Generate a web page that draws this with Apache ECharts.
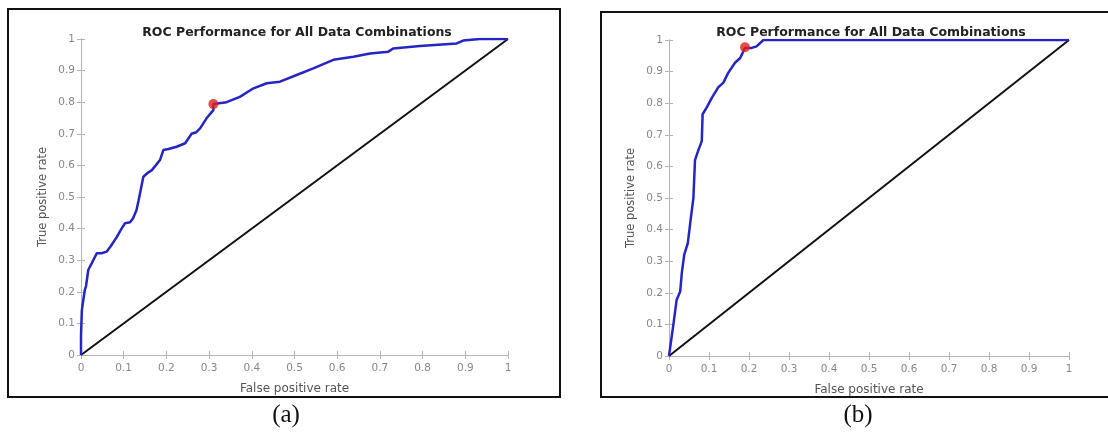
<!DOCTYPE html>
<html>
<head>
<meta charset="utf-8">
<script src="https://cdn.jsdelivr.net/npm/echarts@6/dist/echarts.min.js"></script>
<style>
  html, body { margin: 0; padding: 0; background: #fff; }
  #chart { width: 1108px; height: 432px; }
</style>
</head>
<body>
<div id="chart"></div>
<script>
// ROC curves, (a) left and (b) right
const fprA = [0, 0, 0.002, 0.005, 0.009, 0.012, 0.017, 0.025, 0.037, 0.048, 0.06, 0.07, 0.084, 0.095, 0.103, 0.115, 0.122, 0.13, 0.135, 0.146, 0.155, 0.166, 0.175, 0.185, 0.193, 0.205, 0.224, 0.244, 0.259, 0.27, 0.279, 0.294, 0.31, 0.31, 0.341, 0.372, 0.404, 0.435, 0.466, 0.505, 0.544, 0.591, 0.638, 0.677, 0.72, 0.731, 0.794, 0.88, 0.895, 0.934, 1];
const tprA = [0, 0.06, 0.142, 0.17, 0.206, 0.22, 0.269, 0.29, 0.322, 0.322, 0.327, 0.345, 0.374, 0.4, 0.417, 0.42, 0.433, 0.459, 0.49, 0.564, 0.575, 0.585, 0.6, 0.617, 0.649, 0.652, 0.659, 0.67, 0.7, 0.705, 0.717, 0.749, 0.775, 0.794, 0.8, 0.817, 0.844, 0.86, 0.865, 0.886, 0.907, 0.934, 0.944, 0.954, 0.96, 0.97, 0.978, 0.986, 0.995, 1, 1];
const fprB = [0, 0.011, 0.019, 0.028, 0.032, 0.038, 0.047, 0.053, 0.057, 0.061, 0.065, 0.073, 0.082, 0.084, 0.094, 0.107, 0.123, 0.136, 0.148, 0.165, 0.178, 0.19, 0.207, 0.219, 0.236, 1];
const tprB = [0, 0.1, 0.177, 0.204, 0.262, 0.32, 0.357, 0.42, 0.46, 0.5, 0.62, 0.65, 0.68, 0.765, 0.786, 0.817, 0.85, 0.865, 0.896, 0.928, 0.943, 0.975, 0.975, 0.98, 1, 1];
const chanceLine = [[0, 0], [1, 1]];
const optimalA = [0.31, 0.794];
const optimalB = [0.19, 0.977];

const titleText = "ROC Performance for All Data Combinations";
const xName = "False positive rate";
const yName = "True positive rate";
const captions = ["(a)", "(b)"];

const chart = echarts.init(document.getElementById("chart"), null, { renderer: "canvas" });

const font = "DejaVu Sans, Verdana, sans-serif";
const axisGray = "#b4b4b4";

// panel positions (grid edges in px)
const grids = [
  { left: 81, right: 600, top: 39, bottom: 77 },
  { left: 669, right: 39, top: 40, bottom: 76 }
];

function zip(xs, ys) {
  return xs.map((x, i) => [x, ys[i]]);
}

const xAxes = [];
const yAxes = [];
grids.forEach((g, i) => {
  // bottom and left axes carry labels
  xAxes.push({
    gridIndex: i, type: "value", min: 0, max: 1, interval: 0.1,
    name: xName, nameLocation: "middle", nameGap: 28,
    nameTextStyle: { color: "#555", fontSize: 12, fontFamily: font },
    axisLine: { lineStyle: { color: axisGray, width: 1 } },
    axisTick: { inside: true, length: 4, lineStyle: { color: axisGray } },
    axisLabel: { color: "#888", fontSize: 10.5, fontFamily: font, margin: 8 },
    splitLine: { show: false }
  });
  yAxes.push({
    gridIndex: i, type: "value", min: 0, max: 1, interval: 0.1,
    name: yName, nameLocation: "middle", nameGap: 32,
    nameTextStyle: { color: "#555", fontSize: 11.5, fontFamily: font },
    axisLine: { lineStyle: { color: axisGray, width: 1 } },
    axisTick: { inside: true, length: 4, lineStyle: { color: axisGray } },
    axisLabel: { color: "#888", fontSize: 10.5, fontFamily: font, margin: 6 },
    splitLine: { show: false }
  });
  // top and right box sides with inner ticks
  xAxes.push({
    gridIndex: i, type: "value", min: 0, max: 1, interval: 0.1, position: "top",
    axisLine: { show: true, lineStyle: { color: axisGray, width: 1 } },
    axisTick: { inside: true, length: 4, lineStyle: { color: axisGray } },
    axisLabel: { show: false }, splitLine: { show: false }
  });
  yAxes.push({
    gridIndex: i, type: "value", min: 0, max: 1, interval: 0.1, position: "right",
    axisLine: { show: true, lineStyle: { color: axisGray, width: 1 } },
    axisTick: { inside: true, length: 4, lineStyle: { color: axisGray } },
    axisLabel: { show: false }, splitLine: { show: false }
  });
});

const curves = [zip(fprA, tprA), zip(fprB, tprB)];
const optimal = [optimalA, optimalB];
const series = [];
grids.forEach((g, i) => {
  series.push({
    type: "line", xAxisIndex: i * 2, yAxisIndex: i * 2,
    data: chanceLine, symbol: "none",
    lineStyle: { color: "#111", width: 2 }, z: 2
  });
  series.push({
    type: "line", xAxisIndex: i * 2, yAxisIndex: i * 2,
    data: curves[i], symbol: "none",
    lineStyle: { color: "#2525c4", width: 2.5 }, z: 3
  });
  series.push({
    type: "scatter", xAxisIndex: i * 2, yAxisIndex: i * 2,
    data: [optimal[i]], symbolSize: 10,
    itemStyle: { color: "#e0201c" }, z: 4
  });
});

const option = {
  animation: false,
  backgroundColor: "#fff",
  title: grids.map((g, i) => ({
    text: titleText,
    left: i === 0 ? 292 : 866,
    textAlign: "center",
    top: 21,
    textStyle: { fontSize: 12.5, fontWeight: "bold", color: "#222", fontFamily: font }
  })),
  grid: grids.map(g => Object.assign({ containLabel: false }, g)),
  xAxis: xAxes,
  yAxis: yAxes,
  series: series,
  graphic: [
    // outer frames round each figure
    { type: "rect", shape: { x: 8, y: 9, width: 552, height: 388 }, style: { fill: null, stroke: "#111", lineWidth: 2 }, silent: true },
    { type: "rect", shape: { x: 601, y: 12, width: 520, height: 385 }, style: { fill: null, stroke: "#111", lineWidth: 2 }, silent: true },
    { type: "text", x: 286, y: 415, style: { text: captions[0], font: "25px 'Liberation Serif', 'Times New Roman', serif", fill: "#111", textAlign: "center", textVerticalAlign: "middle" } },
    { type: "text", x: 858, y: 415, style: { text: captions[1], font: "25px 'Liberation Serif', 'Times New Roman', serif", fill: "#111", textAlign: "center", textVerticalAlign: "middle" } }
  ]
};

chart.setOption(option);
</script>
</body>
</html>
